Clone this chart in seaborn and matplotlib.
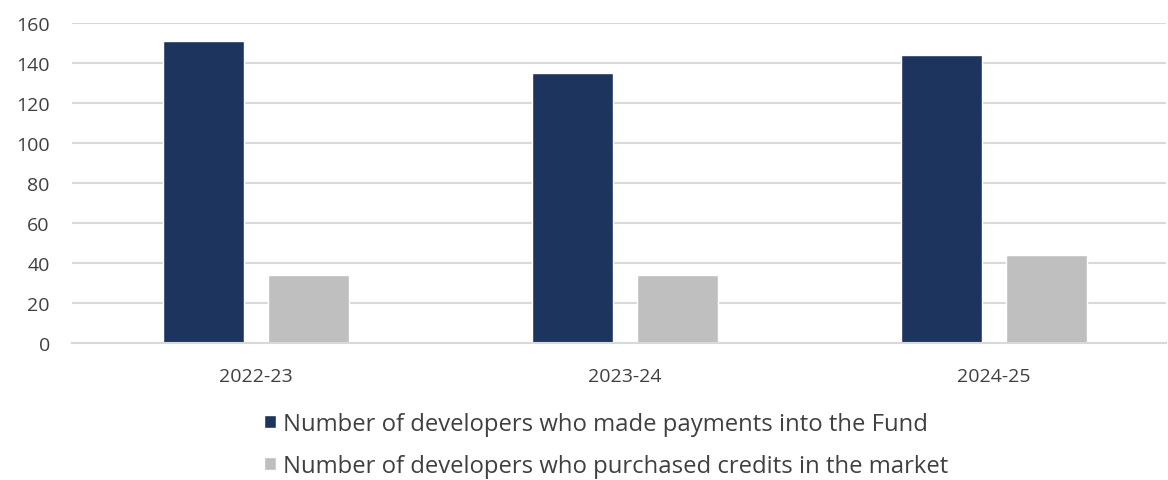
import matplotlib
matplotlib.use("Agg")
import matplotlib.pyplot as plt
import seaborn as sns
import pandas as pd

categories = ["2022-23", "2023-24", "2024-25"]
series_names = ["Number of developers who made payments into the Fund",
                "Number of developers who purchased credits in the market"]
fund_values = [151, 135, 144]
market_values = [34, 34, 44]
yticks = [0, 20, 40, 60, 80, 100, 120, 140, 160]

df = pd.DataFrame({
    "Year": categories * 2,
    "Series": [series_names[0]] * 3 + [series_names[1]] * 3,
    "Value": fund_values + market_values,
})

sns.set_theme(style="white")
plt.rcParams['font.family'] = ['Open Sans', 'DejaVu Sans']

fig = plt.figure(figsize=(11.68, 4.81), dpi=100)
ax = fig.add_axes([72/1168, (481-344)/481, (1166-72)/1168, (344-24)/481])

sns.barplot(data=df, x="Year", y="Value", hue="Series",
            palette=["#1d355e", "#bfbfbf"], width=0.569, gap=0.22,
            ax=ax, saturation=1, legend=True)

ax.set_ylim(0, 160)
ax.set_xlim(-0.4986, 2.466)
ax.set_yticks(yticks)
ax.set_yticklabels([str(t) for t in yticks], fontsize=14, color="#404040")
ax.tick_params(axis="x", labelsize=14, labelcolor="#404040", length=0, pad=17)
ax.tick_params(axis="y", length=0, pad=16)
ax.yaxis.grid(True, color="#d9d9d9", linewidth=1.5)
ax.set_axisbelow(True)
for s in ["left", "right", "top"]:
    ax.spines[s].set_visible(False)
ax.spines["bottom"].set_color("#d9d9d9")
ax.spines["bottom"].set_linewidth(1.5)
ax.set_xlabel("")
ax.set_ylabel("")

handles, labels = ax.get_legend_handles_labels()
ax.legend_.remove()
fig.legend(handles, labels, loc="center", bbox_to_anchor=(606/1168, (481-446)/481),
           ncol=1, frameon=False, fontsize=17.2, handlelength=0.5, handleheight=0.5,
           handletextpad=0.3, labelspacing=0.75, labelcolor="#404040",
           borderaxespad=0, borderpad=0)

fig.savefig("out.png", dpi=100)
